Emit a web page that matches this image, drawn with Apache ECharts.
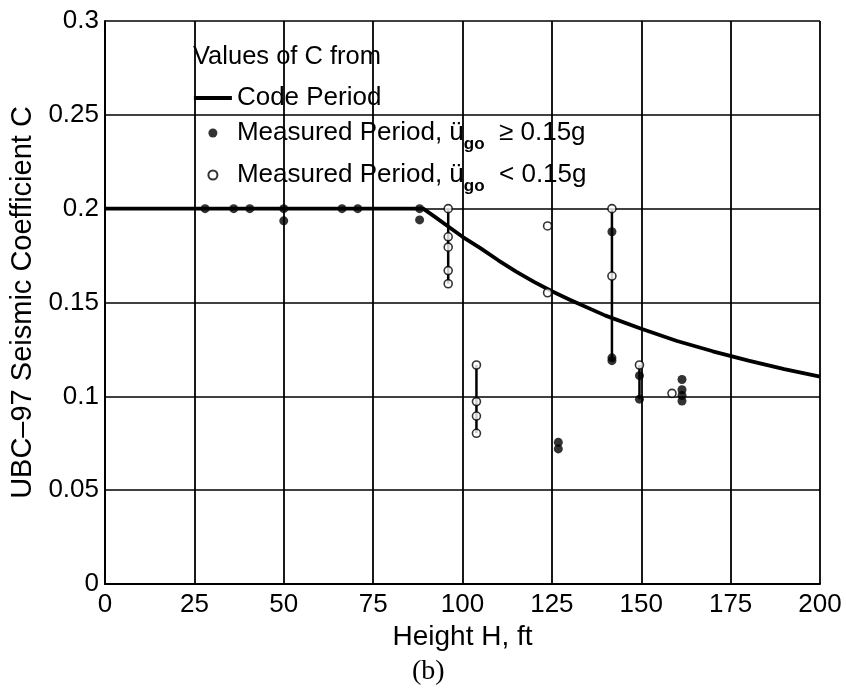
<!DOCTYPE html>
<html>
<head>
<meta charset="utf-8">
<script src="https://cdn.jsdelivr.net/npm/echarts@6/dist/echarts.min.js"></script>
<style>
  html, body { margin: 0; padding: 0; background: #fff; }
  #chart { width: 846px; height: 689px; }
</style>
</head>
<body>
<div id="chart"></div>
<script>
// Code period curve
const codeH = [0, 89, 92, 96, 100, 105, 110, 115, 120, 125, 130, 140, 150, 160, 170, 180, 190, 200];
const codeC = [0.2, 0.2, 0.196, 0.1905, 0.185, 0.179, 0.1725, 0.1665, 0.161, 0.156, 0.1515, 0.143, 0.136, 0.1295, 0.124, 0.119, 0.1145, 0.1105];

// measured period, ugo >= 0.15g (filled)
const strongH = [28, 36, 40.5, 50, 50, 66.3, 70.7, 88, 88, 126.8, 126.8, 141.8, 141.8, 141.8, 149.5, 149.5, 161.4, 161.4, 161.4, 161.4];
const strongC = [0.2, 0.2, 0.2, 0.2, 0.1935, 0.2, 0.2, 0.2, 0.194, 0.0755, 0.072, 0.1877, 0.1205, 0.119, 0.111, 0.0985, 0.109, 0.1035, 0.1005, 0.0975];

// measured period, ugo < 0.15g (open)
const weakH = [96, 96, 96, 96, 96, 103.9, 103.9, 103.9, 103.9, 123.8, 123.8, 141.8, 141.8, 149.5, 158.6];
const weakC = [0.2, 0.185, 0.1795, 0.167, 0.160, 0.1167, 0.0972, 0.0895, 0.0803, 0.1908, 0.1552, 0.2, 0.1641, 0.1167, 0.1016];

// vertical range bars joining records of one building
const rangeH = [96, 103.9, 141.8, 149.5];
const rangeTop = [0.2, 0.1167, 0.2, 0.1167];
const rangeBottom = [0.160, 0.0803, 0.119, 0.0985];

const xTicks = [0, 25, 50, 75, 100, 125, 150, 175, 200];
const yTicks = [0, 0.05, 0.1, 0.15, 0.2, 0.25, 0.3];

const legendNames = ['Code Period', 'strong', 'weak'];
const FONT = 'Liberation Sans, Arial, Helvetica, sans-serif';

function pairs(xs, ys) {
  return xs.map((x, i) => [x, ys[i]]);
}

let myChart = echarts.init(document.getElementById('chart'));

let rangeSeries = rangeH.map((h, i) => ({
  type: 'line',
  data: [[h, rangeTop[i]], [h, rangeBottom[i]]],
  showSymbol: false,
  symbol: 'none',
  silent: true,
  z: 2,
  lineStyle: { color: '#000', width: 2.5 }
}));

let option = {
  animation: false,
  backgroundColor: '#fff',
  grid: {
    left: 104,
    right: 26,
    top: 21,
    bottom: 105
  },
  graphic: [
    {
      type: 'text',
      left: 193,
      top: 44,
      style: { text: 'Values of C from', fontSize: 25.5, fontFamily: FONT, fill: '#000' }
    },
    {
      type: 'text',
      left: 412,
      top: 658,
      style: { text: '(b)', fontSize: 28, fontFamily: 'Liberation Serif, Times New Roman, serif', fill: '#000' }
    }
  ],
  legend: {
    orient: 'vertical',
    left: 192,
    top: 85,
    padding: 0,
    itemGap: 9,
    itemWidth: 38,
    itemHeight: 9,
    data: [
      { name: legendNames[0], itemStyle: { opacity: 0 }, lineStyle: { color: '#000', width: 3.8 } },
      legendNames[1],
      legendNames[2]
    ],
    formatter: function (name) {
      if (name === 'Code Period') return '{t|Code Period}';
      if (name === 'strong') return '{t|Measured Period, ü}{s|go}{t|  ≥ 0.15g}';
      return '{t|Measured Period, ü}{s|go}{t|  < 0.15g}';
    },
    textStyle: {
      color: '#000',
      fontFamily: FONT,
      fontSize: 26,
      rich: {
        t: { fontSize: 26, fontFamily: FONT, color: '#000', lineHeight: 28 },
        s: { fontSize: 17, fontFamily: FONT, color: '#000', fontWeight: 'bold', verticalAlign: 'bottom', lineHeight: 17, padding: [0, 0, -6, 0] }
      }
    }
  },
  xAxis: {
    type: 'value',
    min: 0,
    max: 200,
    interval: 25,
    name: 'Height H, ft',
    nameLocation: 'middle',
    nameGap: 34,
    nameTextStyle: { fontSize: 28, fontFamily: FONT, color: '#000' },
    axisLine: { show: true, lineStyle: { color: '#000', width: 2 } },
    axisTick: { show: false },
    axisLabel: {
      fontSize: 26,
      fontFamily: FONT,
      color: '#000',
      margin: 8,
      formatter: v => xTicks.includes(v) ? String(v) : ''
    },
    splitLine: { show: true, lineStyle: { color: '#000', width: 1.8 } }
  },
  yAxis: {
    type: 'value',
    min: 0,
    max: 0.3,
    interval: 0.05,
    name: 'UBC\u201397 Seismic Coefficient C',
    nameLocation: 'middle',
    nameGap: 68,
    nameTextStyle: { fontSize: 29, fontFamily: FONT, color: '#000' },
    axisLine: { show: true, lineStyle: { color: '#000', width: 2 } },
    axisTick: { show: false },
    axisLabel: {
      fontSize: 26,
      fontFamily: FONT,
      color: '#000',
      margin: 6,
      formatter: function (v) {
        let r = Math.round(v * 100) / 100;
        return yTicks.some(t => Math.abs(t - r) < 1e-9) ? String(r) : '';
      }
    },
    splitLine: { show: true, lineStyle: { color: '#000', width: 1.5 } }
  },
  series: [
    {
      name: 'Code Period',
      type: 'line',
      data: pairs(codeH, codeC),
      smooth: false,
      symbol: 'none',
      showSymbol: false,
      z: 3,
      lineStyle: { color: '#000', width: 3.8, join: 'round' },
      itemStyle: { color: '#000' }
    },
    ...rangeSeries,
    {
      name: 'strong',
      type: 'scatter',
      data: pairs(strongH, strongC),
      symbol: 'circle',
      symbolSize: 9,
      z: 4,
      itemStyle: { color: '#000' }
    },
    {
      name: 'weak',
      type: 'scatter',
      data: pairs(weakH, weakC),
      symbol: 'circle',
      symbolSize: 8,
      z: 5,
      itemStyle: { color: '#fff', borderColor: '#000', borderWidth: 1.6 }
    }
  ]
};
myChart.setOption(option);
</script>
</body>
</html>
